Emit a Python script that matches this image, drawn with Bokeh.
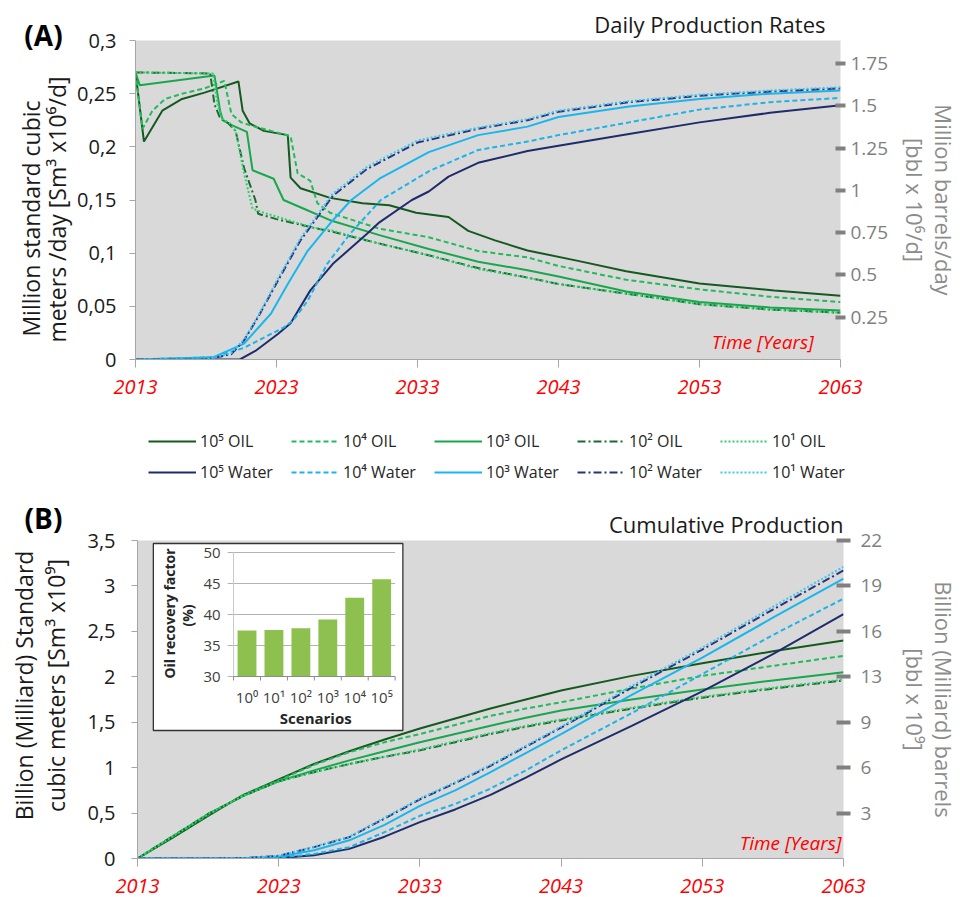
import math
from bokeh.plotting import figure
from bokeh.layouts import column, row
from bokeh.models import (Range1d, LinearAxis, FixedTicker, CustomJSTickFormatter,
                          Label, Legend, LegendItem, Title)
from bokeh.core.properties import value
from bokeh.embed import file_html
from bokeh.resources import INLINE

FONT = "Open Sans"
BBL_PER_M3 = 6.29

# ---------------- data ----------------
YEAR_TICKS = [2013, 2023, 2033, 2043, 2053, 2063]
RATE_TICKS = [0, 0.05, 0.10, 0.15, 0.20, 0.25, 0.30]
RATE_BBL_TICKS = [0.25, 0.5, 0.75, 1.0, 1.25, 1.5, 1.75]
CUM_TICKS = [0, 0.5, 1.0, 1.5, 2.0, 2.5, 3.0, 3.5]
CUM_BBL_TICK_POS = [0.5, 1.0, 1.5, 2.0, 2.5, 3.0, 3.5]

# Daily production rates (million Sm3/d)
OIL_E5_T = [2013, 2013.6, 2014.9, 2016.3, 2017.9, 2020.3, 2020.6, 2021.1, 2022.1, 2023.8, 2024.0, 2024.7,
            2026.8, 2029.1, 2031.0, 2032.9, 2035.2, 2036.6, 2038.5, 2040.8, 2044.3, 2047.8, 2053, 2058.3, 2063]
OIL_E5_Q = [0.270, 0.205, 0.234, 0.245, 0.251, 0.2615, 0.234, 0.222, 0.215, 0.211, 0.171, 0.161,
            0.152, 0.147, 0.145, 0.138, 0.134, 0.121, 0.112, 0.1025, 0.093, 0.083, 0.0715, 0.065, 0.060]
OIL_E4_T = [2013, 2013.5, 2014.2, 2015.1, 2016.3, 2017.9, 2019.3, 2019.8, 2020.5, 2021.2, 2024.0, 2024.5,
            2025.4, 2025.9, 2026.8, 2030.3, 2033.8, 2037.3, 2040.8, 2043, 2047.8, 2053, 2058, 2063]
OIL_E4_Q = [0.270, 0.217, 0.234, 0.245, 0.250, 0.255, 0.262, 0.231, 0.223, 0.220, 0.210, 0.175,
            0.168, 0.147, 0.138, 0.123, 0.115, 0.102, 0.096, 0.088, 0.075, 0.066, 0.059, 0.054]
OIL_E3_T = [2013, 2013.3, 2018.6, 2019.0, 2019.2, 2019.9, 2020.9, 2021.3, 2022.8, 2023.5, 2024.9, 2026.8,
            2030.3, 2033.8, 2037.3, 2040.8, 2043, 2047.8, 2053, 2058, 2063]
OIL_E3_Q = [0.270, 0.258, 0.267, 0.234, 0.225, 0.220, 0.214, 0.178, 0.170, 0.150, 0.142, 0.131,
            0.117, 0.104, 0.092, 0.084, 0.078, 0.064, 0.054, 0.049, 0.046]
OIL_E2_T = [2013, 2018.3, 2018.6, 2019.0, 2019.6, 2020.1, 2020.7, 2021.5, 2021.7, 2023, 2025.6, 2027,
            2030.3, 2033.8, 2037.3, 2040.8, 2043, 2047.8, 2053, 2058, 2063]
OIL_E2_Q = [0.270, 0.269, 0.240, 0.227, 0.222, 0.215, 0.180, 0.150, 0.137, 0.132, 0.124, 0.120,
            0.109, 0.098, 0.086, 0.077, 0.071, 0.062, 0.052, 0.047, 0.044]
OIL_E1_T = [2013, 2018.5, 2018.8, 2019.1, 2019.7, 2020.1, 2020.7, 2021.3, 2022.1, 2025.6, 2027,
            2030.3, 2033.8, 2037.3, 2040.8, 2043, 2047.8, 2053, 2058, 2063]
OIL_E1_Q = [0.270, 0.269, 0.241, 0.227, 0.222, 0.215, 0.175, 0.142, 0.138, 0.124, 0.121,
            0.109, 0.098, 0.085, 0.077, 0.071, 0.062, 0.052, 0.047, 0.044]

WAT_E5_T = [2013, 2020.4, 2021.5, 2023.1, 2024.0, 2025.4, 2027.0, 2029.4, 2030.3, 2032.6, 2033.8, 2035.2,
            2037.3, 2040.8, 2043, 2048, 2053, 2058, 2063]
WAT_E5_Q = [0, 0, 0.008, 0.024, 0.034, 0.065, 0.090, 0.118, 0.129, 0.150, 0.158, 0.172,
            0.185, 0.196, 0.201, 0.212, 0.223, 0.232, 0.239]
WAT_E4_T = [2013, 2018.5, 2020.7, 2023.5, 2024.2, 2025.2, 2026.6, 2028.2, 2030.4, 2033.8, 2037.3,
            2040.8, 2043, 2048, 2053, 2058, 2063]
WAT_E4_Q = [0, 0.002, 0.011, 0.030, 0.037, 0.055, 0.090, 0.118, 0.150, 0.177, 0.197,
            0.205, 0.211, 0.223, 0.235, 0.242, 0.246]
WAT_E3_T = [2013, 2018.5, 2020.7, 2022.6, 2023.8, 2025.2, 2027.0, 2028.3, 2030.3, 2033.8, 2037.3,
            2040.8, 2043, 2048, 2053, 2058, 2063]
WAT_E3_Q = [0, 0.002, 0.015, 0.043, 0.071, 0.102, 0.131, 0.150, 0.170, 0.195, 0.211,
            0.219, 0.228, 0.238, 0.245, 0.250, 0.253]
WAT_E2_T = [2013, 2018.0, 2019.8, 2020.7, 2021.7, 2023.1, 2024.7, 2027.0, 2029.4, 2033, 2037.3,
            2040.8, 2043, 2048, 2053, 2058, 2063]
WAT_E2_Q = [0, 0, 0.005, 0.018, 0.040, 0.074, 0.112, 0.154, 0.179, 0.204, 0.217,
            0.225, 0.233, 0.242, 0.248, 0.252, 0.255]
WAT_E1_T = WAT_E2_T
WAT_E1_Q = [0, 0, 0.006, 0.019, 0.041, 0.076, 0.114, 0.156, 0.181, 0.206, 0.218,
            0.226, 0.234, 0.243, 0.249, 0.253, 0.256]

# Cumulative production (billion Sm3)
CUM_YEARS = [2013, 2015.5, 2018, 2020.5, 2023, 2025.5, 2028, 2030.5, 2033, 2035.5, 2038, 2040.5, 2043,
             2048, 2053, 2058, 2063]
CUM_OIL_E5 = [0, 0.23, 0.47, 0.70, 0.87, 1.04, 1.18, 1.31, 1.43, 1.54, 1.65, 1.75, 1.85, 2.01, 2.15, 2.28, 2.40]
CUM_OIL_E4 = [0, 0.24, 0.48, 0.70, 0.86, 1.03, 1.17, 1.28, 1.37, 1.47, 1.57, 1.65, 1.72, 1.87, 2.01, 2.12, 2.23]
CUM_OIL_E3 = [0, 0.245, 0.49, 0.69, 0.85, 0.97, 1.08, 1.18, 1.28, 1.37, 1.46, 1.55, 1.63, 1.75, 1.86, 1.96, 2.05]
CUM_OIL_E2 = [0, 0.245, 0.49, 0.69, 0.85, 0.95, 1.04, 1.12, 1.19, 1.28, 1.37, 1.45, 1.52, 1.65, 1.77, 1.87, 1.96]
CUM_OIL_E1 = [0, 0.245, 0.49, 0.69, 0.85, 0.95, 1.04, 1.12, 1.20, 1.29, 1.38, 1.46, 1.53, 1.66, 1.78, 1.88, 1.97]
CUM_WAT_E5 = [0, 0, 0, 0, 0.005, 0.035, 0.106, 0.24, 0.40, 0.54, 0.70, 0.89, 1.09, 1.46, 1.84, 2.25, 2.69]
CUM_WAT_E4 = [0, 0, 0, 0.002, 0.01, 0.05, 0.125, 0.29, 0.47, 0.60, 0.77, 0.97, 1.19, 1.60, 2.03, 2.46, 2.86]
CUM_WAT_E3 = [0, 0, 0, 0.003, 0.02, 0.09, 0.20, 0.37, 0.58, 0.75, 0.95, 1.16, 1.37, 1.80, 2.21, 2.65, 3.08]
CUM_WAT_E2 = [0, 0, 0, 0.004, 0.03, 0.125, 0.235, 0.44, 0.65, 0.83, 1.02, 1.23, 1.44, 1.88, 2.30, 2.74, 3.17]
CUM_WAT_E1 = [0, 0, 0, 0.004, 0.03, 0.13, 0.24, 0.45, 0.66, 0.84, 1.03, 1.24, 1.45, 1.90, 2.32, 2.77, 3.21]

# Inset: oil recovery factor
SCENARIOS = ["10⁰", "10¹", "10²", "10³", "10⁴", "10⁵"]
RECOVERY = [37.4, 37.5, 37.8, 39.2, 42.7, 45.7]
RECOVERY_TICKS = [30, 35, 40, 45, 50]

LEGEND_OIL = ["10⁵ OIL", "10⁴ OIL", "10³ OIL", "10² OIL", "10¹ OIL"]
LEGEND_WATER = ["10⁵ Water", "10⁴ Water", "10³ Water", "10² Water", "10¹ Water"]

# ---------------- styles ----------------
STYLES = [("#145a1f", "solid"), ("#22bb5c", "5 3"), ("#17a84c", "solid"), ("#1d6a2a", "8 3 2 3"), ("#2fd072", "2 2"),
          ("#1f2c6c", "solid"), ("#1cb2ea", "5 3"), ("#19b6ee", "solid"), ("#28337e", "8 3 2 3"), ("#3cc6f2", "2 2")]

RATE_SERIES = [(OIL_E5_T, OIL_E5_Q), (OIL_E4_T, OIL_E4_Q), (OIL_E3_T, OIL_E3_Q), (OIL_E2_T, OIL_E2_Q),
               (OIL_E1_T, OIL_E1_Q), (WAT_E5_T, WAT_E5_Q), (WAT_E4_T, WAT_E4_Q), (WAT_E3_T, WAT_E3_Q),
               (WAT_E2_T, WAT_E2_Q), (WAT_E1_T, WAT_E1_Q)]
CUM_SERIES = [CUM_OIL_E5, CUM_OIL_E4, CUM_OIL_E3, CUM_OIL_E2, CUM_OIL_E1,
              CUM_WAT_E5, CUM_WAT_E4, CUM_WAT_E3, CUM_WAT_E2, CUM_WAT_E1]

AXIS_GREY = "#a6a6a6"
RIGHT_GREY = "#808080"
LABEL_GREY = "#8c8c8c"
TXT = "#1a1a1a"


def blank_fig(w, h):
    f = figure(width=w, height=h, x_range=Range1d(0, w), y_range=Range1d(0, h),
               x_axis_type=None, y_axis_type=None, output_backend="svg", toolbar_location=None,
               min_border=0, outline_line_color=None, background_fill_color="white",
               border_fill_color="white")
    f.grid.visible = False
    return f


def put_text(f, h, x, y_top, text, size, style="normal", angle=0.0, color=TXT, align="center"):
    f.text(x=[x], y=[h - y_top], text=[text], angle=angle, text_align=align, text_baseline="middle",
           text_font=value(FONT), text_font_size=size, text_font_style=style, text_color=color)


def style_main(p, y_ticks, y_formatter, x_standoff, y_standoff):
    p.grid.visible = False
    xa = p.xaxis[0]
    xa.ticker = FixedTicker(ticks=YEAR_TICKS)
    xa.axis_line_color = AXIS_GREY
    xa.major_tick_line_color = AXIS_GREY
    xa.major_tick_out = 8
    xa.major_tick_in = 0
    xa.minor_tick_line_color = None
    xa.major_label_text_color = "#ff0000"
    xa.major_label_text_font = FONT
    xa.major_label_text_font_style = "italic"
    xa.major_label_text_font_size = "20px"
    xa.major_label_standoff = x_standoff
    ya = p.yaxis[0]
    ya.ticker = FixedTicker(ticks=y_ticks)
    ya.formatter = y_formatter
    ya.axis_line_color = AXIS_GREY
    ya.major_tick_line_color = AXIS_GREY
    ya.major_tick_out = 6
    ya.major_tick_in = 0
    ya.minor_tick_line_color = None
    ya.major_label_text_color = TXT
    ya.major_label_text_font = FONT
    ya.major_label_text_font_size = "20px"
    ya.major_label_standoff = y_standoff


def right_axis(range_name, ticks, code, tick_len, standoff, label, label_standoff):
    kw = {}
    if range_name:
        kw["y_range_name"] = range_name
    return LinearAxis(ticker=FixedTicker(ticks=ticks), formatter=CustomJSTickFormatter(code=code),
                      axis_line_color=None, major_tick_line_color=RIGHT_GREY, major_tick_line_width=4,
                      major_tick_in=tick_len, major_tick_out=tick_len, minor_tick_line_color=None,
                      major_label_text_color="#7f7f7f", major_label_text_font=FONT,
                      major_label_text_font_size="19px", major_label_standoff=standoff,
                      axis_label=label, axis_label_text_font=FONT, axis_label_text_font_size="22px",
                      axis_label_text_font_style="normal", axis_label_text_color=LABEL_GREY,
                      axis_label_text_line_height=0.97, axis_label_standoff=label_standoff, **kw)


COMMA_FMT = r"return tick.toFixed(2).replace(/\.?0+$/, '').replace('.', ',');"
SW = 74  # width of the left text strips

# ---------------- (A) daily rates ----------------
HA = 405
pA = figure(width=962 - SW, height=HA, x_range=Range1d(2013, 2063), y_range=Range1d(0, 0.3),
            output_backend="svg", toolbar_location=None,
            min_border_left=133 - SW, min_border_right=115, min_border_top=40, min_border_bottom=46,
            background_fill_color="#d9d9d9", border_fill_color="white", outline_line_color=None)
pA.extra_y_ranges = {"bbl": Range1d(0, 0.3 * BBL_PER_M3)}
style_main(pA, RATE_TICKS, CustomJSTickFormatter(code=COMMA_FMT), 12, 13)
pA.add_layout(right_axis("bbl", RATE_BBL_TICKS, r"return tick.toFixed(2).replace(/\.?0+$/, '');", 5, 5,
                         "Million barrels/day\n[bbl x 10⁶/d]", 9), "right")
pA.add_layout(Title(text="Daily Production Rates", align="right", offset=15, standoff=4,
                    text_font=FONT, text_font_size="22px", text_font_style="normal", text_color=TXT), "above")

for (xs, ys), (col, dash) in zip(RATE_SERIES, STYLES):
    pA.line(xs, ys, line_color=col, line_dash=dash, line_width=2)

pA.add_layout(Label(x=2061.1, y=0.016, text="Time [Years]", text_font=FONT, text_font_size="19px",
                    text_font_style="italic", text_color="#ff0000", text_align="right", text_baseline="middle"))

sA = blank_fig(SW, HA)
put_text(sA, HA, 43, 34, "(A)", "28px", style="bold", color="#000000")
put_text(sA, HA, 30, 218, "Million standard cubic", "23px", angle=math.pi / 2)
put_text(sA, HA, 56, 206, "meters /day  [Sm³ x10⁶/d]", "23px", angle=math.pi / 2)

# ---------------- legend strip ----------------
HL = 82
pL = blank_fig(962, HL)
# legend proxies: the same series, which fall outside this strip's pixel ranges (never visible)
proxies = [pL.line(xs, ys, line_color=c, line_dash=d, line_width=2)
           for (xs, ys), (c, d) in zip(RATE_SERIES, STYLES)]
leg_kw = dict(orientation="horizontal", glyph_width=48, glyph_height=22, label_height=22, label_width=89,
              label_standoff=4, spacing=2, padding=0, margin=0, border_line_color=None,
              background_fill_alpha=0, label_text_font=FONT, label_text_font_size="16px",
              label_text_color="#262626", label_text_baseline="middle")
pL.add_layout(Legend(items=[LegendItem(label=t, renderers=[r]) for t, r in zip(LEGEND_OIL, proxies[:5])],
                     location=(148, HL - 47), **leg_kw))
pL.add_layout(Legend(items=[LegendItem(label=t, renderers=[r]) for t, r in zip(LEGEND_WATER, proxies[5:])],
                     location=(148, HL - 78), **leg_kw))

# ---------------- (B) cumulative ----------------
HB = 410
pB = figure(width=962 - SW, height=HB, x_range=Range1d(2013, 2063), y_range=Range1d(0, 3.5),
            output_backend="svg", toolbar_location=None,
            min_border_left=137 - SW, min_border_right=112, min_border_top=53, min_border_bottom=39,
            background_fill_color="#d9d9d9", border_fill_color="white", outline_line_color=None)


def ix(px):
    return (px - 234) / 27.2


def iy(py):
    return 30 + (676 - py) / 6.2


pB.extra_x_ranges = {"ix": Range1d(ix(137), ix(850))}
pB.extra_y_ranges = {"iy": Range1d(iy(858), iy(540))}
style_main(pB, CUM_TICKS, CustomJSTickFormatter(code=COMMA_FMT), 12, 16)
pB.add_layout(right_axis(None, CUM_BBL_TICK_POS, f"return String(Math.round(tick * {BBL_PER_M3}));", 7, 10,
                         "Billion (Milliard) barrels\n[bbl x 10⁹]", 15), "right")
pB.add_layout(Title(text="Cumulative Production", align="right", offset=0, standoff=4,
                    text_font=FONT, text_font_size="22px", text_font_style="normal", text_color=TXT), "above")

for ys, (col, dash) in zip(CUM_SERIES, STYLES):
    pB.line(CUM_YEARS, ys, line_color=col, line_dash=dash, line_width=2)

# inset
n = len(SCENARIOS)
ins = dict(x_range_name="ix", y_range_name="iy")
pB.quad(left=[ix(153)], right=[ix(405)], bottom=[iy(730)], top=[iy(543)],
        fill_color="white", line_color="#333333", line_width=1.3, **ins)
grid_vals = RECOVERY_TICKS[1:]
pB.segment(x0=[0] * len(grid_vals), x1=[n] * len(grid_vals), y0=grid_vals, y1=grid_vals,
           line_color="#b3b3b3", line_width=1, **ins)
pB.segment(x0=[ix(228)] * len(RECOVERY_TICKS), x1=[0] * len(RECOVERY_TICKS), y0=RECOVERY_TICKS,
           y1=RECOVERY_TICKS, line_color="#b3b3b3", line_width=1, **ins)
pB.segment(x0=[0], x1=[0], y0=[RECOVERY_TICKS[0]], y1=[RECOVERY_TICKS[-1]], line_color="#c8c8c8", line_width=1, **ins)
pB.vbar(x=[i + 0.5 for i in range(n)], width=0.7, bottom=RECOVERY_TICKS[0], top=RECOVERY,
        fill_color="#8dc04f", line_color=None, **ins)
pB.segment(x0=[0], x1=[n], y0=[RECOVERY_TICKS[0]], y1=[RECOVERY_TICKS[0]], line_color="#8c8c8c", line_width=1.2, **ins)
pB.segment(x0=list(range(n + 1)), x1=list(range(n + 1)), y0=[RECOVERY_TICKS[0]] * (n + 1),
           y1=[iy(680)] * (n + 1), line_color="#8c8c8c", line_width=1, **ins)
pB.text(x=[ix(221)] * len(RECOVERY_TICKS), y=RECOVERY_TICKS, text=[str(t) for t in RECOVERY_TICKS],
        text_align="right", text_baseline="middle", text_font=value(FONT), text_font_size="15px",
        text_color="#404040", **ins)
pB.text(x=[i + 0.5 for i in range(n)], y=[iy(696)] * n, text=SCENARIOS,
        text_align="center", text_baseline="middle", text_font=value(FONT), text_font_size="15px",
        text_color="#404040", **ins)
pB.text(x=[ix(317)], y=[iy(717)], text=["Scenarios"], text_align="center", text_baseline="middle",
        text_font=value(FONT), text_font_size="15px", text_font_style="bold", text_color="#262626", **ins)
pB.text(x=[ix(169)], y=[iy(613)], text=["Oil recovery factor"], angle=math.pi / 2, text_align="center",
        text_baseline="middle", text_font=value(FONT), text_font_size="14px", text_font_style="bold",
        text_color="#262626", **ins)
pB.text(x=[ix(187)], y=[iy(615)], text=["(%)"], angle=math.pi / 2, text_align="center",
        text_baseline="middle", text_font=value(FONT), text_font_size="14px", text_font_style="bold",
        text_color="#262626", **ins)

pB.add_layout(Label(x=2062.86, y=0.176, text="Time [Years]", text_font=FONT, text_font_size="19px",
                    text_font_style="italic", text_color="#ff0000", text_align="right", text_baseline="middle"))

sB = blank_fig(SW, HB)
put_text(sB, HB, 43, 30, "(B)", "28px", style="bold", color="#000000")
put_text(sB, HB, 23, 198, "Billion (Milliard) Standard", "23px", angle=math.pi / 2)
put_text(sB, HB, 55, 195, "cubic meters  [Sm³ x10⁹]", "23px", angle=math.pi / 2)

layout = column(row(column(sA), pA), pL, row(column(sB), pB))
open("out.html", "w").write(file_html(layout, INLINE))
